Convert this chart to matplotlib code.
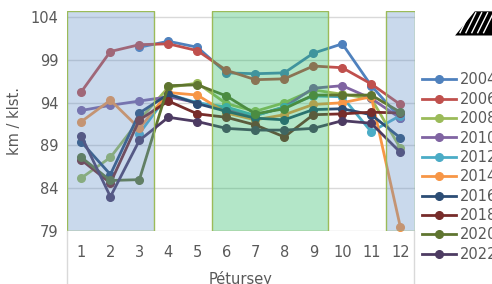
import numpy as np
import matplotlib.pyplot as plt
from matplotlib.patches import Rectangle, Polygon
from matplotlib.lines import Line2D

nan = np.nan
months = list(range(1, 13))

years = ['2004', '2006', '2008', '2010', '2012', '2014', '2016', '2018', '2020', '2022']
colors = ['#4F81BD', '#C0504D', '#9BBB59', '#8064A2', '#4BACC6',
          '#F79646', '#2C4D75', '#772C2A', '#5F7530', '#4D3B62']

v2004 = [nan, nan, 100.5, 101.2, 100.5, 97.5, 97.4, 97.5, 99.8, 100.9, 96.0, 92.2]
v2006 = [95.3, 100.0, 100.8, 100.9, 100.1, 97.8, 96.7, 96.8, 98.3, 98.1, 96.2, 93.8]
v2008 = [85.2, 87.6, 92.0, 95.8, 96.3, 93.9, 93.0, 94.0, 95.5, 95.0, 94.5, 88.7]
v2010 = [93.1, 93.7, 94.2, 94.7, 94.0, 93.2, 92.5, 93.5, 95.7, 96.0, 94.5, 92.2]
v2012 = [nan, nan, 90.4, 95.0, 94.0, 93.5, 92.5, 93.5, 94.8, 94.7, 90.6, 92.5]
v2014 = [91.8, 94.3, 91.0, 95.2, 94.9, 92.8, 92.0, 92.6, 93.8, 94.0, 94.7, 79.5]
v2016 = [89.4, 85.6, 92.8, 95.0, 93.9, 93.0, 92.2, 92.0, 93.2, 93.3, 92.6, 89.9]
v2018 = [87.3, 84.6, 92.0, 94.2, 92.7, 92.3, 91.4, 90.0, 92.6, 92.7, 92.9, 92.8]
v2020 = [87.6, 84.9, 85.0, 96.0, 96.1, 94.8, 92.7, 93.3, 94.9, 94.9, 94.9, 92.9]
v2022 = [90.1, 83.0, 89.6, 92.3, 91.8, 91.0, 90.8, 90.8, 91.0, 91.9, 91.6, 88.2]
series = [v2004, v2006, v2008, v2010, v2012, v2014, v2016, v2018, v2020, v2022]

# shaded month ranges (first, last, fill)
bands = [(1, 3, '#6592c9'), (6, 9, '#26b862'), (12, 12, '#6592c9')]

grey = '#595959'
plt.rcParams['font.family'] = ['DejaVu Sans']

fig = plt.figure(figsize=(4.92, 2.84), dpi=100, facecolor='white')
ax = fig.add_axes([0.136, 0.187, 0.707, 0.776])

for vals, col, lab in zip(series, colors, years):
    ax.plot(months, vals, color=col, lw=2.0, marker='o', ms=5.5, label=lab, zorder=3)

for a, b, fc in bands:
    ax.add_patch(Rectangle((a - 0.5, 79), b - a + 1, 25.8, facecolor=fc, alpha=0.35,
                           edgecolor='none', zorder=4))
    ax.add_patch(Rectangle((a - 0.5, 79), b - a + 1, 25.8, facecolor='none',
                           edgecolor='#9BBB59', lw=1.0, zorder=5))

ax.set_xlim(0.5, 12.5)
ax.set_ylim(79, 104.8)
ax.set_yticks(np.arange(79, 105, 5))
ax.set_xticks(months)
ax.grid(axis='y', color='#d9d9d9', lw=1.0, zorder=0)
ax.set_axisbelow(True)
for s in ax.spines.values():
    s.set_visible(False)
ax.tick_params(length=0, labelsize=10.5, colors=grey, pad=6)
ax.tick_params(axis='x', pad=10)
ax.set_xlabel('Pétursey', fontsize=10.5, color=grey, labelpad=8)
ax.set_ylabel('km / klst.', fontsize=10.5, color=grey, labelpad=6)

# thin frame lines running down to the bottom edge
for xf in (67 / 492, 414 / 492):
    fig.add_artist(Line2D([xf, xf], [0, 0.187], color='#d9d9d9', lw=1.0))

fig.legend(loc='upper left', bbox_to_anchor=(0.858, 0.745), frameon=False,
           fontsize=10.5, handlelength=2.3, handletextpad=0.3, labelspacing=0.3,
           borderpad=0, borderaxespad=0, labelcolor=grey)

# small striped logo in the top right corner
logo = Polygon([[0.925, 0.875], [0.965, 0.96], [1.0, 0.96], [1.0, 0.875]],
               closed=True, facecolor='black', edgecolor='none', transform=fig.transFigure)
fig.add_artist(logo)
for k in range(5):
    x0 = 0.935 + k * 0.012
    fig.add_artist(Line2D([x0, x0 + 0.02], [0.885, 0.955], color='white', lw=1.0))

fig.savefig('out.png', dpi=100)
